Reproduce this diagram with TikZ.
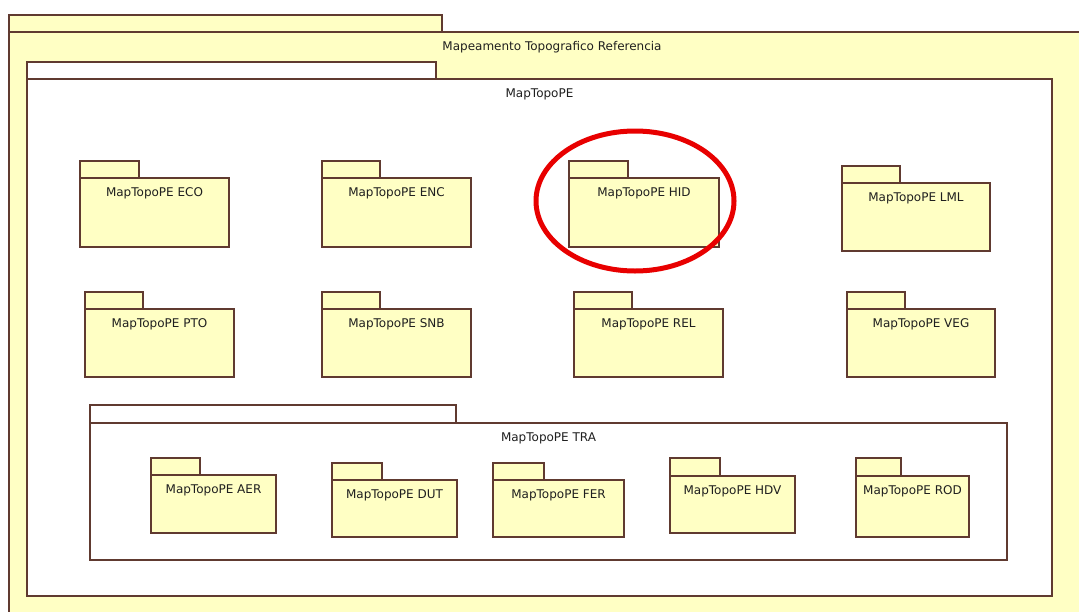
\documentclass[tikz,border=0pt]{standalone}
\usepackage{fontspec}
\setmainfont{DejaVu Sans}
\definecolor{pkgfill}{RGB}{255,255,196}
\definecolor{pkgline}{RGB}{96,58,48}
\definecolor{ring}{RGB}{232,0,0}
\tikzset{
  pkgbox/.style={draw=pkgline, line width=1.3pt},
  pkglabel/.style={font=\fontsize{12}{14}\selectfont, text=black!88, inner sep=0pt},
}
% UML package: name, left x, tab right x, tab top y, body top y, right x, bottom y, label, fill
\newcommand\umlpkg[9]{%
  \path[pkgbox, fill=#9] (#2,#4) rectangle (#3,#5);
  \path[pkgbox, fill=#9] (#2,#5) rectangle (#6,#7);
  \node[pkglabel] (#1) at ({(#2+#6)/2},{#5+15}) {#8};
}
\begin{document}
\begin{tikzpicture}[x=1pt,y=-1pt]
  \useasboundingbox (0,0) rectangle (1079,611);
  \clip (0,0) rectangle (1079,611);
  \fill[white] (0,0) rectangle (1079,611);

  % outer package
  \umlpkg{ref}{9}{442}{15}{32}{1095}{630}{Mapeamento Topografico Referencia}{pkgfill}
  % MapTopoPE
  \umlpkg{topo}{27}{436}{62}{79}{1052}{596}{MapTopoPE}{white}

  % first row
  \umlpkg{eco}{80}{139}{161}{178}{229}{247}{MapTopoPE ECO}{pkgfill}
  \umlpkg{enc}{322}{380}{161}{178}{471}{247}{MapTopoPE ENC}{pkgfill}
  \umlpkg{hid}{569}{628}{161}{178}{719}{247}{MapTopoPE HID}{pkgfill}
  \umlpkg{lml}{842}{900}{166}{183}{990}{251}{MapTopoPE LML}{pkgfill}

  % second row
  \umlpkg{pto}{85}{143}{292}{309}{234}{377}{MapTopoPE PTO}{pkgfill}
  \umlpkg{snb}{322}{380}{292}{309}{471}{377}{MapTopoPE SNB}{pkgfill}
  \umlpkg{rel}{574}{632}{292}{309}{723}{377}{MapTopoPE REL}{pkgfill}
  \umlpkg{veg}{847}{905}{292}{309}{995}{377}{MapTopoPE VEG}{pkgfill}

  % transport package
  \umlpkg{tra}{90}{456}{405}{423}{1007}{560}{MapTopoPE TRA}{white}
  \umlpkg{aer}{151}{200}{458}{475}{276}{533}{MapTopoPE AER}{pkgfill}
  \umlpkg{dut}{332}{382}{463}{480}{457}{537}{MapTopoPE DUT}{pkgfill}
  \umlpkg{fer}{493}{544}{463}{480}{624}{537}{MapTopoPE FER}{pkgfill}
  \umlpkg{hdv}{670}{720}{458}{476}{795}{533}{MapTopoPE HDV}{pkgfill}
  \umlpkg{rod}{856}{901}{458}{476}{969}{537}{MapTopoPE ROD}{pkgfill}

  % highlight ring around HID
  \draw[ring, line width=5pt] (635,201) ellipse [x radius=99, y radius=70];
\end{tikzpicture}
\end{document}
